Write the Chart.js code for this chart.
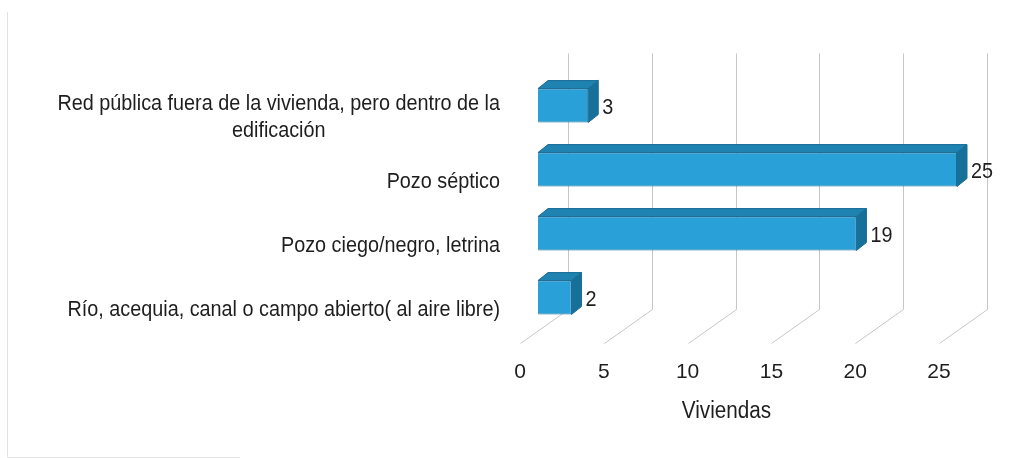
<!DOCTYPE html>
<html lang="es">
<head>
<meta charset="utf-8">
<title>Viviendas según eliminación de excretas</title>
<script src="https://cdn.jsdelivr.net/npm/chart.js@4"></script>
<style>
  html, body { margin: 0; padding: 0; background: #fff; }
  #wrap { width: 1028px; height: 458px; }
</style>
</head>
<body>
<div id="wrap"><canvas id="chart" width="1028" height="458"></canvas></div>
<script>
// ── Data ──────────────────────────────────────────────────────────────────────
const categorias = [
  ['Red pública fuera de la vivienda, pero dentro de la', 'edificación'],
  ['Pozo séptico'],
  ['Pozo ciego/negro, letrina'],
  ['Río, acequia, canal o campo abierto( al aire libre)'],
];
const viviendas = [3, 25, 19, 2];
const ejeMin = 0;
const ejeMax = 25;
const ejePaso = 5;
const tituloX = 'Viviendas';

// ── Look ──────────────────────────────────────────────────────────────────────
const FONT      = "'Liberation Sans', Arial, sans-serif";
const TEXT      = '#1e1e1e';
const FRONT     = '#29a0d8';
const EDGE      = '#1b6e96';
const TOP       = '#1e83b0';
const SIDE      = '#17709a';
const GRID      = '#c6c6c6';
const NARROW    = 0.9;  // horizontal squeeze for the narrow text look
const DEPTH_X   = 10;   // bar depth, px
const DEPTH_Y   = 8;
const WALL_X    = 30;   // back wall offset from bar plane
const FLOOR_X   = -18;  // front edge of the floor

// text drawn a bit condensed
function narrowText(ctx, text, x, y, align) {
  ctx.save();
  ctx.translate(x, y);
  ctx.scale(NARROW, 1);
  ctx.textAlign = align;
  ctx.fillText(text, 0, 0);
  ctx.restore();
}

// ── Faint frame on the left/bottom ────────────────────────────────────────────
const framePlugin = {
  id: 'frame',
  beforeDraw(chart) {
    const ctx = chart.ctx;
    ctx.save();
    ctx.strokeStyle = '#e2e2e2';
    ctx.lineWidth = 1;
    ctx.beginPath();
    ctx.moveTo(7.5, 12);
    ctx.lineTo(7.5, 457.5);
    ctx.lineTo(240, 457.5);
    ctx.stroke();
    ctx.restore();
  }
};

// ── Back wall + floor gridlines ───────────────────────────────────────────────
const wallPlugin = {
  id: 'wall3d',
  beforeDatasetsDraw(chart) {
    const { ctx, chartArea: a, scales: { x } } = chart;
    ctx.save();
    ctx.strokeStyle = GRID;
    ctx.lineWidth = 1;
    x.ticks.forEach(t => {
      const px = Math.round(x.getPixelForValue(t.value)) + 0.5;
      const bx = px + WALL_X;
      ctx.beginPath();
      ctx.moveTo(bx, a.top - 20);
      ctx.lineTo(bx, a.bottom - 20);
      ctx.lineTo(px + FLOOR_X, a.bottom + 14);
      ctx.stroke();
    });
    ctx.restore();
  }
};

// ── Bar top/side faces and value labels ───────────────────────────────────────
const barsPlugin = {
  id: 'bars3d',
  afterDatasetsDraw(chart) {
    const ctx = chart.ctx;
    const meta = chart.getDatasetMeta(0);
    ctx.save();
    meta.data.forEach((bar, i) => {
      const { x, y, base, height } = bar.getProps(['x', 'y', 'base', 'height'], true);
      const top = y - height / 2;
      const bottom = y + height / 2;

      ctx.lineWidth = 1;
      ctx.strokeStyle = EDGE;

      ctx.beginPath();
      ctx.moveTo(base, top);
      ctx.lineTo(base + DEPTH_X, top - DEPTH_Y);
      ctx.lineTo(x + DEPTH_X, top - DEPTH_Y);
      ctx.lineTo(x, top);
      ctx.closePath();
      ctx.fillStyle = TOP;
      ctx.fill();
      ctx.stroke();

      ctx.beginPath();
      ctx.moveTo(x, top);
      ctx.lineTo(x + DEPTH_X, top - DEPTH_Y);
      ctx.lineTo(x + DEPTH_X, bottom - DEPTH_Y);
      ctx.lineTo(x, bottom);
      ctx.closePath();
      ctx.fillStyle = SIDE;
      ctx.fill();
      ctx.stroke();

      ctx.fillStyle = TEXT;
      ctx.font = `22px ${FONT}`;
      ctx.textBaseline = 'middle';
      narrowText(ctx, String(viviendas[i]), x + DEPTH_X + 4, y + 2, 'left');
    });
    ctx.restore();
  }
};

// ── Category labels and axis title ────────────────────────────────────────────
const labelsPlugin = {
  id: 'labels',
  afterDraw(chart) {
    const { ctx, chartArea: a, scales: { x, y } } = chart;
    ctx.save();
    ctx.fillStyle = TEXT;
    ctx.font = `22px ${FONT}`;
    ctx.textBaseline = 'middle';
    const right = a.left - 38;
    const lineH = 27;
    categorias.forEach((lines, i) => {
      const cy = y.getPixelForValue(i) + 12;
      const w = Math.max(...lines.map(l => ctx.measureText(l).width)) * NARROW;
      const cx = right - w / 2;
      lines.forEach((l, k) => {
        narrowText(ctx, l, cx, cy + (k - (lines.length - 1) / 2) * lineH, 'center');
      });
    });

    ctx.font = `23px ${FONT}`;
    const tx = (x.getPixelForValue(ejeMin) + x.getPixelForValue(ejeMax)) / 2 + FLOOR_X - 3;
    narrowText(ctx, tituloX, tx, 412, 'center');
    ctx.restore();
  }
};

// ── Chart ─────────────────────────────────────────────────────────────────────
new Chart(document.getElementById('chart'), {
  type: 'bar',
  data: {
    labels: categorias,
    datasets: [{
      data: viviendas,
      backgroundColor: FRONT,
      borderColor: EDGE,
      borderWidth: 1,
      categoryPercentage: 1,
      barPercentage: 0.53,
    }]
  },
  options: {
    indexAxis: 'y',
    responsive: false,
    animation: false,
    layout: { padding: { top: 73.5, right: 71, bottom: 0, left: 0 } },
    plugins: {
      legend: { display: false },
      tooltip: { enabled: false },
    },
    scales: {
      x: {
        min: ejeMin,
        max: ejeMax,
        grid: { display: false, drawTicks: false },
        border: { display: false },
        ticks: {
          stepSize: ejePaso,
          color: TEXT,
          font: { family: FONT, size: 21 },
          padding: 30,
          labelOffset: FLOOR_X,
        },
        afterFit: s => { s.height = 128.5; },
      },
      y: {
        grid: { display: false, drawTicks: false },
        border: { display: false },
        ticks: { display: false },
        afterFit: s => { s.width = 538; },
      }
    }
  },
  plugins: [framePlugin, wallPlugin, barsPlugin, labelsPlugin]
});
</script>
</body>
</html>
